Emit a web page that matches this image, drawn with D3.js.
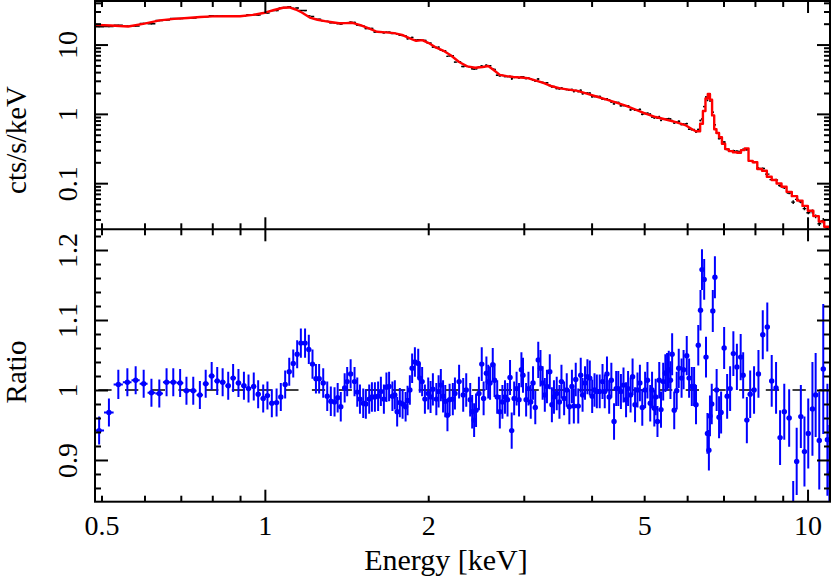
<!DOCTYPE html>
<html>
<head>
<meta charset="utf-8">
<script src="https://d3js.org/d3.v7.min.js"></script>
<style>
  body { margin: 0; background: #fff; }
</style>
</head>
<body>
<div id="svg_chart"></div>
<script>
// model (red line), counts per bin centre
var modelEnergy = [0.49,0.52,0.56,0.60,0.64,0.68,0.72,0.76,0.80,0.85,0.90,0.95,1.00,1.04,1.08,1.11,1.14,1.17,1.21,1.25,
  1.29,1.33,1.37,1.41,1.45,1.50,1.55,1.61,1.67,1.73,1.79,1.85,1.90,1.95,2.00,2.06,2.13,2.20,2.28,2.36,
  2.44,2.52,2.58,2.64,2.71,2.79,2.87,2.96,3.05,3.15,3.26,3.38,3.50,3.63,3.77,3.92,4.08,4.25,4.43,4.62,
  4.82,5.03,5.25,5.48,5.72,5.95,6.15,6.30,6.38,6.45,6.52,6.58,6.64,6.70,6.76,6.83,6.91,7.00,7.10,7.22,
  7.35,7.48,7.60,7.72,7.85,8.00,8.16,8.33,8.50,8.68,8.86,9.05,9.25,9.46,9.68,9.90,10.13,10.37,10.61,10.86];
var modelFlux = [19.2,18.8,18.2,20.0,22.3,23.5,24.2,25.0,25.5,25.6,25.6,26.8,28.8,31.5,34.0,34.3,32.0,29.0,24.5,22.8,
  21.8,21.0,20.3,20.4,20.6,19.1,17.3,15.3,15.0,14.6,13.8,12.3,11.3,11.6,10.6,9.2,8.2,7.0,5.6,4.85,
  4.62,4.75,4.9,4.3,3.65,3.5,3.4,3.35,3.28,3.05,2.8,2.5,2.33,2.24,2.15,1.96,1.78,1.62,1.46,1.31,
  1.15,1.01,0.90,0.83,0.76,0.69,0.59,0.56,0.72,1.10,1.67,1.93,1.6,0.95,0.60,0.53,0.46,0.37,0.31,0.29,
  0.28,0.275,0.30,0.318,0.21,0.20,0.16,0.151,0.124,0.111,0.099,0.089,0.075,0.065,0.056,0.047,0.040,0.0335,0.028,0.0235];
// above this energy the model is drawn as visible steps
var stepStartEnergy = 6.2;

// data/model ratio
var ratioEnergy = [0.495,0.516,0.537,0.558,0.578,0.598,0.618,0.639,0.659,0.678,0.698,0.717,0.738,0.759,0.778,0.798,0.817,0.836,0.856,0.874,
  0.894,0.915,0.933,0.954,0.972,0.993,1.011,1.030,1.051,1.070,1.090,1.109,1.128,1.147,
  1.165,1.186,1.205,1.224,1.242,1.259,1.281,1.303,1.323,1.344,1.362,1.380,1.403,1.418,1.439,1.463,1.480,1.497,1.518,1.535,
  1.557,1.575,1.595,1.617,1.636,1.657,1.675,1.694,1.718,1.736,1.753,1.773,1.794,1.817,1.832,1.850,1.868,1.890,1.917,1.930,1.949,1.972,
  2.00,2.02,2.04,2.07,2.09,2.11,2.13,2.15,2.17,2.19,2.22,2.24,2.28,2.32,2.35,2.39,2.41,2.43,2.45,2.48,
  2.51,2.53,2.56,2.58,2.60,2.63,2.65,2.68,2.71,2.74,2.77,2.80,2.83,2.85,2.88,2.91,2.94,2.97,2.99,3.03,
  3.06,3.09,3.12,3.15,3.19,3.22,3.25,3.28,3.31,3.35,3.38,3.41,3.45,3.49,3.52,3.56,3.60,3.64,3.68,3.71,
  3.74,3.78,3.82,3.85,3.89,3.93,3.97,4.01,4.05,4.09,4.14,4.19,4.23,4.27,4.31,4.35,4.40,4.44,4.48,4.53,
  4.58,4.63,4.67,4.72,4.76,4.81,4.86,4.91,4.96,5.02,5.07,
  5.13,5.17,5.22,5.25,5.29,5.33,5.37,5.42,5.47,5.51,5.55,5.59,5.63,5.68,5.74,5.79,5.86,5.91,5.99,6.05,
  6.12,6.18,6.23,6.29,6.35,6.39,6.45,6.50,6.54,6.58,6.61,6.66,6.69,6.75,6.80,6.87,6.93,7.02,7.11,7.20,
  7.30,7.41,7.53,7.61,7.73,7.84,7.97,8.12,8.27,8.43,8.59,8.75,8.90,9.06,9.25,9.41,9.55,9.72,9.87,10.03,
  10.21,10.35,10.51,10.69,10.88,10.97];
var ratioValue = [0.942,0.968,1.008,1.011,1.014,1.009,0.996,0.995,1.011,1.011,1.010,0.999,0.999,0.993,1.009,1.020,1.013,1.011,1.006,1.017,
  1.010,1.006,1.002,1.005,0.994,0.988,0.992,0.981,0.982,0.990,1.008,1.026,1.038,1.051,
  1.067,1.067,1.058,1.037,1.016,1.016,1.010,0.991,0.984,0.983,0.989,0.976,1.003,1.012,1.023,1.012,0.997,0.987,0.981,0.980,
  0.987,0.990,0.990,0.991,0.998,0.987,1.004,1.005,0.991,0.993,0.969,0.982,0.980,0.976,0.985,1.000,1.031,1.040,1.038,1.017,1.012,0.987,
  0.995,0.990,1.001,0.987,0.998,1.007,0.991,0.984,0.964,0.986,0.987,0.995,1.012,0.993,1.000,0.986,0.969,0.957,0.971,0.995,
  1.037,0.988,1.024,1.012,1.010,1.036,1.014,0.990,0.969,0.983,0.990,0.986,1.018,0.942,0.988,1.002,0.986,1.029,1.021,0.986,
  1.002,0.983,1.010,0.975,1.043,1.031,1.010,0.993,1.005,1.026,0.979,0.990,0.995,0.983,1.012,0.988,1.000,0.976,1.005,0.977,
  1.015,0.977,1.021,0.993,1.010,1.019,1.017,0.991,1.000,0.998,0.998,1.012,0.998,1.023,0.990,1.014,0.955,1.002,1.002,0.998,
  1.007,0.986,1.002,0.993,1.019,0.979,1.000,1.010,0.975,1.000,1.014,
  0.981,1.000,0.974,0.990,0.955,1.014,0.972,1.012,1.024,1.026,1.029,1.014,1.051,0.971,0.999,1.031,1.017,1.029,1.049,1.017,
  1.005,1.005,0.979,1.064,1.114,1.172,1.158,1.047,0.938,0.914,0.963,0.980,1.113,1.161,1.000,0.961,0.968,1.060,0.991,1.002,
  1.052,1.033,1.047,1.021,0.957,0.994,1.000,1.023,1.079,1.090,1.013,1.003,0.932,0.969,0.960,0.820,0.898,0.962,0.912,0.938,
  0.973,0.993,0.928,1.030,0.929,0.880];
var ratioError = [0.020,0.020,0.021,0.020,0.020,0.020,0.020,0.020,0.020,0.020,0.020,0.020,0.020,0.020,0.020,0.020,0.020,0.020,0.020,0.020,
  0.020,0.020,0.020,0.020,0.020,0.020,0.020,0.020,0.020,0.020,0.020,0.020,0.020,0.020,
  0.021,0.021,0.021,0.021,0.021,0.021,0.021,0.021,0.021,0.021,0.021,0.021,0.021,0.021,0.021,0.021,0.021,0.021,0.021,0.021,
  0.021,0.021,0.021,0.021,0.021,0.021,0.021,0.021,0.021,0.021,0.021,0.021,0.021,0.021,0.021,0.021,0.021,0.021,0.021,0.021,0.021,0.021,
  0.023,0.023,0.023,0.023,0.023,0.023,0.023,0.023,0.023,0.023,0.023,0.023,0.024,0.024,0.024,0.024,0.024,0.024,0.024,0.024,
  0.024,0.024,0.024,0.024,0.024,0.024,0.024,0.024,0.024,0.024,0.024,0.024,0.025,0.026,0.024,0.024,0.024,0.025,0.025,0.024,
  0.024,0.024,0.024,0.024,0.026,0.026,0.024,0.024,0.024,0.025,0.025,0.024,0.024,0.024,0.024,0.024,0.024,0.025,0.024,0.025,
  0.024,0.025,0.025,0.024,0.024,0.025,0.025,0.024,0.024,0.024,0.024,0.025,0.024,0.025,0.024,0.025,0.026,0.025,0.025,0.025,
  0.025,0.025,0.025,0.025,0.026,0.025,0.025,0.026,0.026,0.026,0.026,
  0.026,0.026,0.026,0.026,0.022,0.026,0.026,0.027,0.027,0.027,0.027,0.027,0.030,0.027,0.027,0.028,0.028,0.028,0.028,0.028,
  0.028,0.028,0.028,0.029,0.029,0.029,0.029,0.029,0.029,0.029,0.029,0.029,0.030,0.030,0.030,0.030,0.030,0.030,0.032,0.032,
  0.032,0.033,0.033,0.033,0.033,0.034,0.034,0.034,0.035,0.035,0.037,0.037,0.039,0.040,0.041,0.050,0.048,0.045,0.050,0.050,
  0.067,0.060,0.070,0.093,0.080,0.070];

// ticks
var xMajorTicks = [1, 10];
var xMinorTicks = [0.5, 0.6, 0.7, 0.8, 0.9, 2, 3, 4, 5, 6, 7, 8, 9];
var xTickLabels = [0.5, 1, 2, 5, 10];
var topMajorTicks = [0.1, 1, 10];
var topMinorTicks = [0.03,0.04,0.05,0.06,0.07,0.08,0.09,0.2,0.3,0.4,0.5,0.6,0.7,0.8,0.9,2,3,4,5,6,7,8,9,20,30,40];
var ratioMajorTicks = [0.9, 1.0, 1.1, 1.2];
var ratioMinorTicks = [0.86,0.88,0.92,0.94,0.96,0.98,1.02,1.04,1.06,1.08,1.12,1.14,1.16,1.18,1.22];

const svg_width = 831
const svg_height = 578
const left = 95, right = 830
const top_y = 1, mid_y = 229.3, bottom_y = 501.7
const serif = '"Liberation Serif", "Times New Roman", Times, serif'

var svg = d3.select('#svg_chart').append('svg')
  .attr('width', svg_width)
  .attr('height', svg_height);

var x_scale = d3.scaleLog().domain([0.4864, 11.0]).range([left, right]);
var flux_scale = d3.scaleLog().domain([0.0216, 42.5]).range([mid_y, top_y]);
var ratio_scale = d3.scaleLinear().domain([0.8404, 1.2296]).range([bottom_y, mid_y]);

// clip paths for the two panels
var defs = svg.append('defs');
defs.append('clipPath').attr('id', 'clip_top').append('rect')
  .attr('x', left).attr('y', top_y).attr('width', right - left).attr('height', mid_y - top_y);
defs.append('clipPath').attr('id', 'clip_bottom').append('rect')
  .attr('x', left).attr('y', mid_y).attr('width', right - left).attr('height', bottom_y - mid_y);

// bin edges of the model (geometric midpoints)
var modelEdges = [x_scale.domain()[0]];
for (var i = 1; i < modelEnergy.length; i++) modelEdges.push(Math.sqrt(modelEnergy[i-1] * modelEnergy[i]));
modelEdges.push(x_scale.domain()[1]);

// bin edges of the ratio points
var ratioData = ratioEnergy.map(function(e, i) {
  var lo = i > 0 ? Math.sqrt(ratioEnergy[i-1] * e) : e * e / Math.sqrt(e * ratioEnergy[1]);
  var hi = i < ratioEnergy.length - 1 ? Math.sqrt(ratioEnergy[i+1] * e) : e * e / Math.sqrt(e * ratioEnergy[i-1]);
  var k = Math.max(0, Math.min(modelFlux.length - 1, d3.bisectRight(modelEdges, e) - 1));
  return {e: e, lo: lo, hi: hi, r: ratioValue[i], err: ratioError[i], model: modelFlux[k]};
});

// ---- top panel: data (black) and model (red)
var top_g = svg.append('g').attr('clip-path', 'url(#clip_top)');

top_g.selectAll('line.xerr').data(ratioData).enter().append('line')
  .attr('x1', function(d) { return x_scale(d.lo); })
  .attr('x2', function(d) { return x_scale(d.hi); })
  .attr('y1', function(d) { return flux_scale(d.model * d.r); })
  .attr('y2', function(d) { return flux_scale(d.model * d.r); })
  .attr('stroke', 'black').attr('stroke-width', 1.4);
top_g.selectAll('line.yerr').data(ratioData).enter().append('line')
  .attr('x1', function(d) { return x_scale(d.e); })
  .attr('x2', function(d) { return x_scale(d.e); })
  .attr('y1', function(d) { return flux_scale(d.model * (d.r - d.err)); })
  .attr('y2', function(d) { return flux_scale(d.model * (d.r + d.err)); })
  .attr('stroke', 'black').attr('stroke-width', 1.4);

// fine bins at low energy look smooth, wide bins at high energy show steps
var modelPoints = [[modelEdges[0], modelFlux[0]]];
modelFlux.forEach(function(v, i) {
  if (modelEnergy[i] < stepStartEnergy) {
    modelPoints.push([modelEnergy[i], v]);
  } else {
    modelPoints.push([modelEdges[i], v]);
    modelPoints.push([modelEdges[i+1], v]);
  }
});
top_g.append('path')
  .datum(modelPoints)
  .attr('fill', 'none')
  .attr('stroke', '#ff0000')
  .attr('stroke-width', 2.4)
  .attr('stroke-linejoin', 'round')
  .attr('d', d3.line()
    .x(function(d) { return x_scale(d[0]); })
    .y(function(d) { return flux_scale(d[1]); }));

// ---- bottom panel: ratio
var bottom_g = svg.append('g').attr('clip-path', 'url(#clip_bottom)');

bottom_g.append('line')
  .attr('x1', left).attr('x2', right)
  .attr('y1', ratio_scale(1)).attr('y2', ratio_scale(1))
  .attr('stroke', 'black').attr('stroke-width', 1.6)
  .attr('stroke-dasharray', '13.3,13.4')
  .attr('stroke-dashoffset', 23.4);

bottom_g.selectAll('line.rx').data(ratioData).enter().append('line')
  .attr('x1', function(d) { return x_scale(d.lo); })
  .attr('x2', function(d) { return x_scale(d.hi); })
  .attr('y1', function(d) { return ratio_scale(d.r); })
  .attr('y2', function(d) { return ratio_scale(d.r); })
  .attr('stroke', '#0000ff').attr('stroke-width', 2);
bottom_g.selectAll('line.ry').data(ratioData).enter().append('line')
  .attr('x1', function(d) { return x_scale(d.e); })
  .attr('x2', function(d) { return x_scale(d.e); })
  .attr('y1', function(d) { return ratio_scale(d.r - d.err); })
  .attr('y2', function(d) { return ratio_scale(d.r + d.err); })
  .attr('stroke', '#0000ff').attr('stroke-width', 2);
bottom_g.selectAll('circle').data(ratioData).enter().append('circle')
  .attr('cx', function(d) { return x_scale(d.e); })
  .attr('cy', function(d) { return ratio_scale(d.r); })
  .attr('r', 2.7)
  .attr('fill', '#0000ff');

// ---- axes
function tickAxis(axis, transform) {
  svg.append('g')
    .attr('transform', transform)
    .call(axis)
    .call(function(g) { g.select('.domain').remove(); })
    .call(function(g) { g.selectAll('line').attr('stroke', 'black').attr('stroke-width', 2); });
}

[top_y, mid_y, bottom_y].forEach(function(yy, idx) {
  // ticks pointing down (top of a panel) and up (bottom of a panel)
  if (idx < 2) {
    tickAxis(d3.axisTop(x_scale).tickValues(xMinorTicks).tickSize(-6).tickFormat(''), 'translate(0,' + yy + ')');
    tickAxis(d3.axisTop(x_scale).tickValues(xMajorTicks).tickSize(-12).tickFormat(''), 'translate(0,' + yy + ')');
  }
  if (idx > 0) {
    tickAxis(d3.axisBottom(x_scale).tickValues(xMinorTicks).tickSize(-6).tickFormat(''), 'translate(0,' + yy + ')');
    tickAxis(d3.axisBottom(x_scale).tickValues(xMajorTicks).tickSize(-12).tickFormat(''), 'translate(0,' + yy + ')');
  }
});

tickAxis(d3.axisLeft(flux_scale).tickValues(topMinorTicks).tickSize(-6).tickFormat(''), 'translate(' + left + ',0)');
tickAxis(d3.axisLeft(flux_scale).tickValues(topMajorTicks).tickSize(-13).tickFormat(''), 'translate(' + left + ',0)');
tickAxis(d3.axisRight(flux_scale).tickValues(topMinorTicks).tickSize(-6).tickFormat(''), 'translate(' + right + ',0)');
tickAxis(d3.axisRight(flux_scale).tickValues(topMajorTicks).tickSize(-13).tickFormat(''), 'translate(' + right + ',0)');
tickAxis(d3.axisLeft(ratio_scale).tickValues(ratioMinorTicks).tickSize(-6).tickFormat(''), 'translate(' + left + ',0)');
tickAxis(d3.axisLeft(ratio_scale).tickValues(ratioMajorTicks).tickSize(-13).tickFormat(''), 'translate(' + left + ',0)');
tickAxis(d3.axisRight(ratio_scale).tickValues(ratioMinorTicks).tickSize(-6).tickFormat(''), 'translate(' + right + ',0)');
tickAxis(d3.axisRight(ratio_scale).tickValues(ratioMajorTicks).tickSize(-13).tickFormat(''), 'translate(' + right + ',0)');

// frames
svg.append('rect')
  .attr('x', left).attr('y', top_y).attr('width', right - left).attr('height', bottom_y - top_y)
  .attr('fill', 'none').attr('stroke', 'black').attr('stroke-width', 2);
svg.append('line')
  .attr('x1', left).attr('x2', right).attr('y1', mid_y).attr('y2', mid_y)
  .attr('stroke', 'black').attr('stroke-width', 2);

// tick labels
function labelAxis(axis, transform, rotate) {
  var g = svg.append('g')
    .attr('transform', transform)
    .call(axis)
    .call(function(g) { g.select('.domain').remove(); });
  g.selectAll('line').remove();
  g.selectAll('text')
    .attr('fill', 'black')
    .style('font-family', serif)
    .style('font-size', '28px');
  if (rotate) {
    g.selectAll('text')
      .attr('transform', 'rotate(-90)')
      .attr('x', 0).attr('y', -18).attr('dy', 0)
      .attr('text-anchor', 'middle');
  } else {
    g.selectAll('text').attr('y', 33.5).attr('dy', 0);
  }
}

labelAxis(d3.axisBottom(x_scale).tickValues(xTickLabels).tickSize(0).tickFormat(function(d) { return String(d); }),
  'translate(0,' + bottom_y + ')', false);
labelAxis(d3.axisLeft(flux_scale).tickValues(topMajorTicks).tickSize(0).tickFormat(function(d) { return String(d); }),
  'translate(' + left + ',0)', true);
labelAxis(d3.axisLeft(ratio_scale).tickValues(ratioMajorTicks).tickSize(0).tickFormat(function(d) { return String(d); }),
  'translate(' + left + ',0)', true);

// axis titles
svg.append('text')
  .attr('transform', 'translate(26,140) rotate(-90)')
  .attr('text-anchor', 'middle')
  .style('font-family', serif)
  .style('font-size', '29px')
  .text('cts/s/keV');
svg.append('text')
  .attr('transform', 'translate(26,372) rotate(-90)')
  .attr('text-anchor', 'middle')
  .style('font-family', serif)
  .style('font-size', '29px')
  .text('Ratio');
svg.append('text')
  .attr('x', 446).attr('y', 570)
  .attr('text-anchor', 'middle')
  .style('font-family', serif)
  .style('font-size', '30px')
  .text('Energy [keV]');
</script>
</body>
</html>
